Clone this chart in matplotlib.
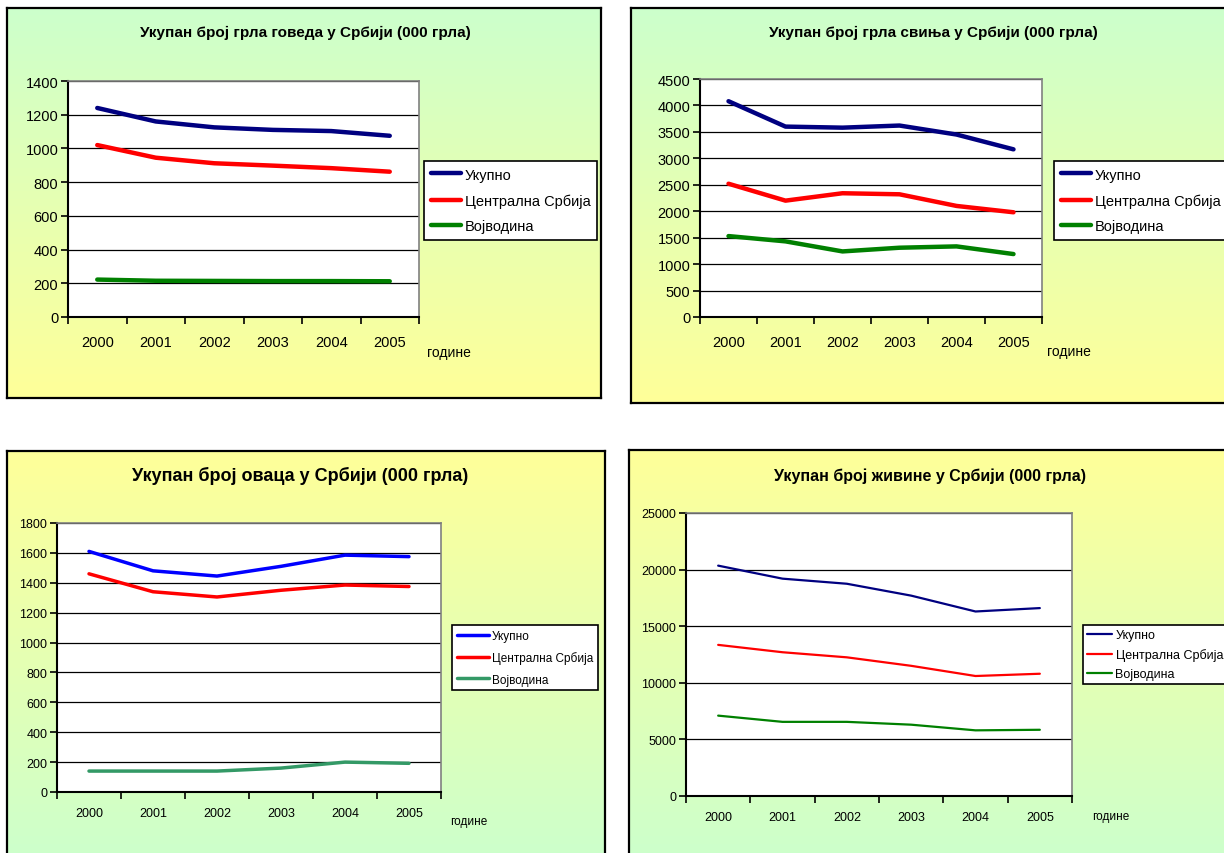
import numpy as np
import matplotlib
matplotlib.use('Agg')
import matplotlib.pyplot as plt

plt.rcParams['font.family'] = ['Liberation Sans', 'DejaVu Sans']

godine = ['2000', '2001', '2002', '2003', '2004', '2005']
serije = ['Укупно', 'Централна Србија', 'Војводина']

# goveda
goveda_ukupno = [1240, 1160, 1125, 1110, 1103, 1075]
goveda_centralna = [1020, 945, 912, 898, 883, 862]
goveda_vojvodina = [222, 215, 214, 213, 213, 212]

# svinje
svinje_ukupno = [4080, 3600, 3580, 3620, 3450, 3170]
svinje_centralna = [2520, 2200, 2340, 2320, 2100, 1980]
svinje_vojvodina = [1530, 1430, 1240, 1310, 1335, 1190]

# ovce
ovce_ukupno = [1610, 1480, 1445, 1510, 1585, 1575]
ovce_centralna = [1460, 1340, 1305, 1350, 1385, 1375]
ovce_vojvodina = [140, 140, 140, 160, 200, 192]

# zivina
zivina_ukupno = [20350, 19200, 18750, 17700, 16300, 16600]
zivina_centralna = [13350, 12700, 12250, 11500, 10600, 10800]
zivina_vojvodina = [7100, 6550, 6550, 6300, 5800, 5850]

W, H = 1224, 854
fig = plt.figure(figsize=(W / 100, H / 100), dpi=100)
fig.patch.set_facecolor('white')

zelena = np.array([0.80, 1.0, 0.80])
zuta = np.array([1.0, 1.0, 0.60])


def px(x0, y0, x1, y1):
    return [x0 / W, 1 - y1 / H, (x1 - x0) / W, (y1 - y0) / H]


def pozadina(box, gore, dole):
    bg = fig.add_axes(px(*box), zorder=0)
    t = np.linspace(0, 1, 256)[:, None]
    grad = gore[None, :] * (1 - t[:, :, None]) + dole[None, :] * t[:, :, None]
    bg.imshow(grad, extent=[0, 1, 0, 1], aspect='auto', origin='upper')
    bg.set_xticks([])
    bg.set_yticks([])
    for s in bg.spines.values():
        s.set_color('black')
        s.set_linewidth(1.6)


def grafikon(box, podaci, boje, lw, ymax, korak, naslov, nasl_xy, nasl_fs,
             fs, pad, leg_xy, leg_fs, hl, ls, bp, god_xy, god_fs):
    ax = fig.add_axes(px(*box), zorder=2)
    ax.set_facecolor('white')
    x = np.arange(len(godine))
    for vals, boja, ime in zip(podaci, boje, serije):
        ax.plot(x, vals, color=boja, lw=lw, label=ime, solid_capstyle='round')
    ax.set_xlim(-0.5, 5.5)
    ax.set_ylim(0, ymax)
    yt = np.arange(0, ymax + 1, korak)
    ax.set_yticks(yt)
    ax.set_yticklabels([str(v) for v in yt], fontsize=fs)
    ax.set_xticks(np.arange(-0.5, 6, 1))
    ax.set_xticklabels([])
    ax.set_xticks(x, minor=True)
    ax.set_xticklabels(godine, minor=True, fontsize=fs)
    ax.tick_params(axis='x', which='minor', length=0, pad=pad)
    ax.tick_params(axis='both', which='major', length=5, width=1.2, direction='out')
    ax.tick_params(axis='y', pad=2)
    ax.yaxis.grid(True, color='black', lw=0.9)
    ax.set_axisbelow(True)
    for s in ['left', 'bottom']:
        ax.spines[s].set_color('black')
        ax.spines[s].set_linewidth(1.5)
    for s in ['top', 'right']:
        ax.spines[s].set_color('#808080')
        ax.spines[s].set_linewidth(1.2)
    fig.text(nasl_xy[0] / W, 1 - nasl_xy[1] / H, naslov, ha='center', va='center',
             fontsize=nasl_fs, fontweight='bold')
    fig.text(god_xy[0] / W, 1 - god_xy[1] / H, 'године', ha='left', va='center',
             fontsize=god_fs)
    leg = ax.legend(loc='upper left', bbox_to_anchor=(leg_xy[0] / W, 1 - leg_xy[1] / H),
                    bbox_transform=fig.transFigure, fontsize=leg_fs, frameon=True,
                    fancybox=False, framealpha=1, edgecolor='black',
                    handlelength=hl, handletextpad=0.25, borderaxespad=0,
                    labelspacing=ls, borderpad=bp)
    leg.get_frame().set_linewidth(1.2)
    return ax


pozadina((7, 9, 601, 399), zelena, zuta)
pozadina((631, 9, 1232, 404), zelena, zuta)
pozadina((7, 452, 605, 862), zuta, zelena)
pozadina((629, 451, 1232, 862), zuta, zelena)

grafikon((68, 82, 419, 318), [goveda_ukupno, goveda_centralna, goveda_vojvodina],
         ['#000080', '#ff0000', '#008000'], 3.2, 1400, 200,
         'Укупан број грла говеда у Србији (000 грла)', (305, 33), 11, 10.5, 13,
         (424, 162), 10.5, 2.1, 0.8, 0.45, (427, 353), 10)

grafikon((700, 80, 1042, 318), [svinje_ukupno, svinje_centralna, svinje_vojvodina],
         ['#000080', '#ff0000', '#008000'], 3.2, 4500, 500,
         'Укупан број грла свиња у Србији (000 грла)', (933, 33), 11, 10.5, 13,
         (1054, 162), 10.5, 2.1, 0.8, 0.45, (1047, 352), 10)

grafikon((57, 524, 441, 793), [ovce_ukupno, ovce_centralna, ovce_vojvodina],
         ['#0000ff', '#ff0000', '#339966'], 2.5, 1800, 200,
         'Укупан број оваца у Србији (000 грла)', (300, 476), 13, 9, 11,
         (452, 626), 8.5, 2.7, 0.8, 0.4, (450, 822), 8.5)

grafikon((686, 514, 1072, 797), [zivina_ukupno, zivina_centralna, zivina_vojvodina],
         ['#000080', '#ff0000', '#008000'], 1.6, 25000, 5000,
         'Укупан број живине у Србији (000 грла)', (930, 476), 11.5, 9, 11,
         (1083, 626), 9, 2.0, 0.55, 0.35, (1092, 817), 8.5)

fig.savefig('out.png', dpi=100)
